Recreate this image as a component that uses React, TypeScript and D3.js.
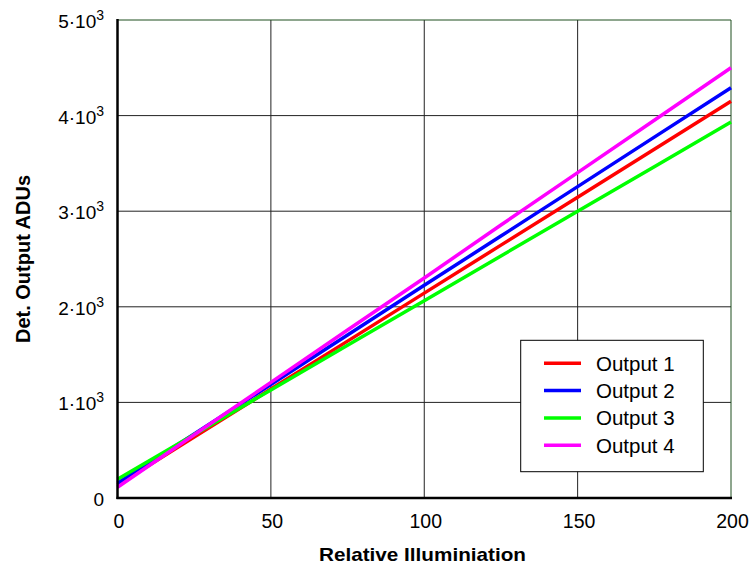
import React from "react";
import * as d3 from "d3";

const xValues = [0, 25, 50, 75, 100, 125, 150, 175, 200];
const output1 = [136, 638, 1140, 1641, 2143, 2645, 3147, 3648, 4150];
const output2 = [154, 671, 1188, 1706, 2226, 2740, 3257, 3775, 4292];
const output3 = [196, 663, 1130, 1597, 2064, 2532, 2999, 3466, 3933];
const output4 = [112, 661, 1209, 1758, 2302, 2855, 3404, 3952, 4501];
const seriesNames = ["Output 1", "Output 2", "Output 3", "Output 4"];
const seriesColors = ["#ff0000", "#0000ff", "#00ff00", "#ff00ff"];
const xTicks = [0, 50, 100, 150, 200];
const yTicks = [0, 1, 2, 3, 4, 5];

export default function App() {
  const W = 754, H = 567;
  const L = 117.5, R = 731, T = 20, B = 498;
  const x = d3.scaleLinear().domain([0, 200]).range([L, R]);
  const y = d3.scaleLinear().domain([0, 5000]).range([B, T]);
  const all = [output1, output2, output3, output4];
  const line = d3.line<number>().x((_, i) => x(xValues[i])).y((d) => y(d));
  const font = "'Liberation Sans', Arial, sans-serif";
  return (
    <svg width={W} height={H} style={{ position: "absolute", left: 0, top: 0 }} fontFamily={font}>
      <rect width={W} height={H} fill="#fff" />
      {xTicks.slice(1, -1).map((t) => (
        <line key={"vx" + t} x1={x(t)} x2={x(t)} y1={T} y2={B} stroke="#222" strokeWidth={1} />
      ))}
      {yTicks.slice(1, -1).map((t) => (
        <line key={"hy" + t} x1={L} x2={R} y1={y(t * 1000)} y2={y(t * 1000)} stroke="#222" strokeWidth={1} />
      ))}
      <line x1={L} x2={R} y1={T} y2={T} stroke="#1f4f1f" strokeWidth={1} />
      <line x1={R} x2={R} y1={T} y2={B} stroke="#1f4f1f" strokeWidth={1} />
      {all.map((s, i) => (
        <path key={i} d={line(s) || ""} fill="none" stroke={seriesColors[i]} strokeWidth={3.5} strokeLinejoin="round" />
      ))}
      <line x1={L} x2={L} y1={T - 1} y2={B + 1} stroke="#000" strokeWidth={2.5} />
      <line x1={L - 1} x2={R + 1} y1={B} y2={B} stroke="#000" strokeWidth={2.5} />
      {yTicks.map((t) => (
        <text key={"yt" + t} x={104} y={y(t * 1000) + 8} textAnchor="end" fontSize={19} fill="#000">
          {t === 0 ? "0" : (
            <>
              {t}·10<tspan dy={-8} fontSize={14}>3</tspan>
            </>
          )}
        </text>
      ))}
      {xTicks.map((t) => (
        <text key={"xt" + t} x={x(t) + 1.5} y={528} textAnchor="middle" fontSize={19.5} fill="#000">{t}</text>
      ))}
      <text x={422.5} y={561} textAnchor="middle" fontSize={19} fontWeight="bold" textLength={207} lengthAdjust="spacingAndGlyphs">Relative Illuminiation</text>
      <text transform={`translate(30,${(T + B) / 2}) rotate(-90)`} textAnchor="middle" fontSize={20} fontWeight="bold">Det. Output ADUs</text>
      <rect x={520.7} y={340.3} width={182.6} height={131.4} fill="#fff" stroke="#000" strokeWidth={1} />
      {seriesNames.map((n, i) => (
        <g key={n}>
          <line x1={544} x2={581} y1={363.3 + i * 27.3} y2={363.3 + i * 27.3} stroke={seriesColors[i]} strokeWidth={3.5} />
          <text x={596} y={363.3 + i * 27.3 + 7.5} fontSize={20.5} fill="#000">{n}</text>
        </g>
      ))}
    </svg>
  );
}
